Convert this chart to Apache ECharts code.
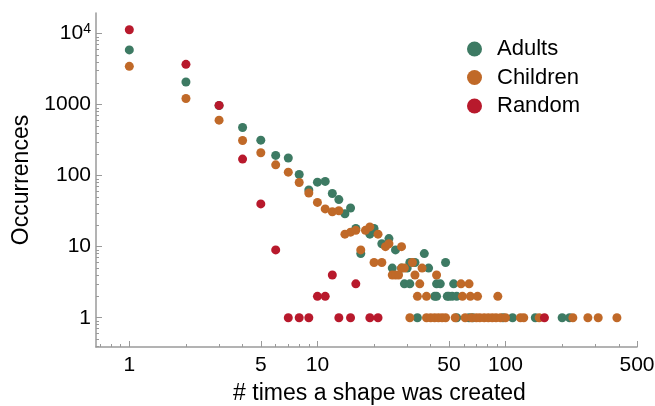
<!DOCTYPE html>
<html>
<head>
<meta charset="utf-8">
<script src="https://cdn.jsdelivr.net/npm/echarts@6/dist/echarts.min.js"></script>
<style>
  html, body { margin: 0; padding: 0; background: #fff; }
  #chart { width: 655px; height: 406px; }
</style>
</head>
<body>
<div id="chart"></div>
<script>
// [times created, occurrences]
const adults = [
  [1, 5900], [2, 2080], [3, 970], [4, 477], [5, 316], [6, 193], [7, 177], [8, 104], [9, 63],
  [10, 81], [11, 83], [12, 56], [13, 46], [14, 29], [15, 35], [16, 18], [17, 8], [19, 15],
  [20, 18], [22, 11], [24, 13], [26, 9], [25, 5], [28, 5], [30, 5], [39, 5], [31, 6], [33, 6],
  [48, 6], [37, 8], [29, 3], [31, 3], [43, 3], [45, 3], [53, 3], [42, 2], [43, 2], [49, 2],
  [50, 2], [52, 2], [55, 2], [34, 1], [55, 1], [64, 1], [67, 1], [97, 1], [109, 1], [144, 1],
  [200, 1], [219, 1]
];
const children = [
  [1, 3460], [2, 1220], [3, 604], [4, 313], [5, 210], [6, 142], [7, 112], [8, 80], [9, 57],
  [10, 42], [11, 34], [12, 31], [13, 32], [14, 15], [15, 16], [16, 17], [17, 9], [18, 17],
  [19, 19], [21, 15], [23, 10], [24, 11], [28, 10], [20, 6], [22, 6], [32, 6], [28, 5], [29, 5],
  [36, 5], [25, 4], [26, 4], [27, 4], [33, 4], [43, 4], [35, 3], [58, 3], [64, 3], [34, 2],
  [38, 2], [59, 2], [65, 2], [71, 2], [91, 2], [31, 1], [38, 1], [40, 1], [42, 1], [44, 1],
  [46, 1], [48, 1], [54, 1], [61, 1], [66, 1], [70, 1], [73, 1], [77, 1], [81, 1], [85, 1],
  [89, 1], [94, 1], [100, 1], [120, 1], [125, 1], [151, 1], [228, 1], [274, 1], [311, 1], [391, 1]
];
const random = [
  [1, 11350], [2, 3690], [3, 975], [4, 171], [5, 40], [6, 9], [7, 1], [8, 1], [9, 1], [10, 2],
  [11, 2], [12, 4], [13, 1], [15, 1], [16, 3], [19, 1], [21, 1], [161, 1]
];

const xMajorTicks = [1, 5, 10, 50, 100, 500];
const xMinorTicks = [0.7, 0.8, 0.9, 2, 3, 4, 6, 7, 8, 9, 20, 30, 40, 60, 70, 80, 90, 200, 300, 400];
const yMajorTicks = [1, 10, 100, 1000, 10000];
const yMinorTicks = [0.4, 0.5, 0.6, 0.7, 0.8, 0.9,
  2, 3, 4, 5, 6, 7, 8, 9, 20, 30, 40, 50, 60, 70, 80, 90,
  200, 300, 400, 500, 600, 700, 800, 900, 2000, 3000, 4000, 5000, 6000, 7000, 8000, 9000];

const font = "'Liberation Sans', Arial, sans-serif";
const axisGray = "#9a9a9a";
const titleSize = 23;
const tickSize = 21;

const chart = echarts.init(document.getElementById("chart"));

const xBase = { type: "log", min: 0.665, max: 500, position: "bottom", splitLine: { show: false } };
const yBase = { type: "log", min: 0.387, max: 19500, position: "left", splitLine: { show: false } };

const option = {
  animation: false,
  grid: { left: 96, right: 18, top: 13, bottom: 59, outerBoundsMode: "none", containLabel: false },
  legend: {
    orient: "vertical",
    left: 462,
    top: 33,
    itemWidth: 15,
    itemHeight: 15,
    itemGap: 6.5,
    icon: "circle",
    textStyle: { fontSize: 22, color: "#000", fontFamily: font, padding: [0, 0, 0, 10] },
    data: ["Adults", "Children", "Random"],
  },
  xAxis: [
    {
      ...xBase,
      name: "# times a shape was created",
      nameLocation: "middle",
      nameGap: 35,
      nameTextStyle: { fontSize: titleSize, color: "#000", fontFamily: font, padding: [0, 0, 0, 26] },
      axisLine: { lineStyle: { color: axisGray, width: 1.5 } },
      axisTick: { inside: true, length: 6, customValues: xMajorTicks, lineStyle: { color: axisGray } },
      axisLabel: { customValues: xMajorTicks, margin: 8, fontSize: tickSize, color: "#000", fontFamily: font },
    },
    {
      ...xBase,
      axisLine: { show: false },
      axisTick: { inside: true, length: 3, customValues: xMinorTicks, lineStyle: { color: axisGray } },
      axisLabel: { show: false },
    },
  ],
  yAxis: [
    {
      ...yBase,
      name: "Occurrences",
      nameLocation: "middle",
      nameGap: 63,
      nameTextStyle: { fontSize: titleSize, color: "#000", fontFamily: font },
      axisLine: { show: true, lineStyle: { color: axisGray, width: 1.5 } },
      axisTick: { show: true, inside: true, length: 6, customValues: yMajorTicks, lineStyle: { color: axisGray } },
      axisLabel: {
        customValues: yMajorTicks,
        margin: 5,
        fontSize: tickSize,
        color: "#000",
        fontFamily: font,
        formatter: function (value) {
          return value >= 10000 ? "{b|10}{s|4}" : String(value);
        },
        rich: {
          b: { fontSize: tickSize, color: "#000", fontFamily: font },
          s: { fontSize: 14, color: "#000", fontFamily: font, verticalAlign: "top", padding: [0, 0, 9, 0] },
        },
      },
    },
    {
      ...yBase,
      axisLine: { show: false },
      axisTick: { show: true, inside: true, length: 3, customValues: yMinorTicks, lineStyle: { color: axisGray } },
      axisLabel: { show: false },
    },
  ],
  series: [
    { name: "Adults", type: "scatter", data: adults, symbolSize: 9, itemStyle: { color: "#3d7a63", opacity: 1 } },
    { name: "Children", type: "scatter", data: children, symbolSize: 9, itemStyle: { color: "#c06928", opacity: 1 } },
    { name: "Random", type: "scatter", data: random, symbolSize: 9, itemStyle: { color: "#b8192c", opacity: 1 } },
  ],
};

chart.setOption(option);
</script>
</body>
</html>
